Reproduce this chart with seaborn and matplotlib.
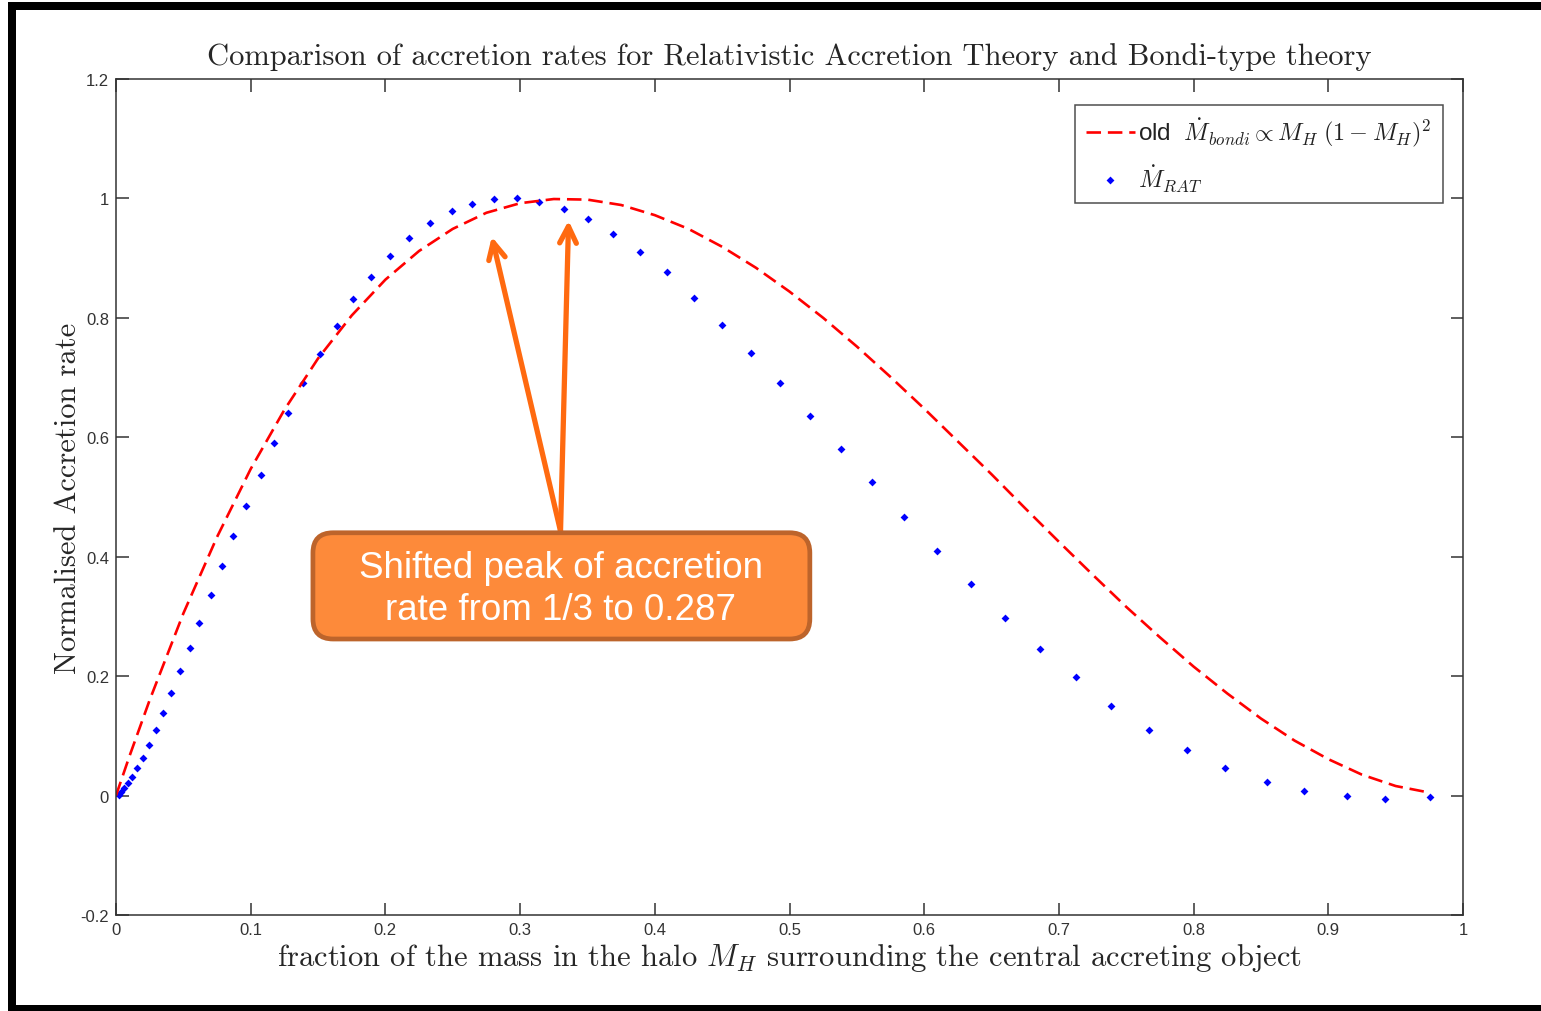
import numpy as np
import pandas as pd
import matplotlib
matplotlib.use("Agg")
import matplotlib.pyplot as plt
import seaborn as sns
from matplotlib.patches import Rectangle, FancyBboxPatch
from matplotlib.ticker import FuncFormatter

# ---- data ----
bondi_x = [0.0, 0.01, 0.025, 0.05, 0.075, 0.1, 0.125, 0.15, 0.175, 0.2, 0.225, 0.25,
           0.275, 0.3, 0.325, 0.35, 0.375, 0.4, 0.425, 0.45, 0.475, 0.5, 0.525,
           0.55, 0.575, 0.6, 0.625, 0.65, 0.675, 0.7, 0.725, 0.75, 0.775, 0.8,
           0.825, 0.85, 0.875, 0.9, 0.925, 0.95, 0.975]
bondi_y = [0.0, 0.066, 0.160, 0.305, 0.433, 0.547, 0.646, 0.732, 0.804, 0.864, 0.912,
           0.949, 0.976, 0.992, 0.999, 0.998, 0.989, 0.972, 0.949, 0.919, 0.884,
           0.844, 0.800, 0.752, 0.701, 0.648, 0.593, 0.538, 0.481, 0.425, 0.370,
           0.316, 0.265, 0.216, 0.171, 0.129, 0.092, 0.061, 0.035, 0.016, 0.005]

rat_x = [0.002, 0.0037, 0.0059, 0.0087, 0.0117, 0.0154, 0.0200, 0.0247, 0.0295, 0.0351,
         0.0408, 0.0475, 0.0549, 0.0616, 0.0703, 0.0789, 0.0871, 0.0965, 0.1074,
         0.1173, 0.1279, 0.1390, 0.1514, 0.1638, 0.1761, 0.1895, 0.2034, 0.2177,
         0.2328, 0.2494, 0.2642, 0.2803, 0.2974, 0.3142, 0.3325, 0.3503, 0.3691,
         0.3891, 0.4092, 0.4290, 0.4498, 0.4715, 0.4931, 0.5150, 0.5383, 0.5611,
         0.5849, 0.6094, 0.6351, 0.6598, 0.6860, 0.7125, 0.7390, 0.7667, 0.7949,
         0.8233, 0.8545, 0.8820, 0.9137, 0.9424, 0.9753]
rat_y = [0.001, 0.0067, 0.0124, 0.0212, 0.0313, 0.0458, 0.0631, 0.0848, 0.1104, 0.1379,
         0.1718, 0.2086, 0.2466, 0.2894, 0.3363, 0.3838, 0.4340, 0.4852, 0.5366,
         0.5901, 0.6415, 0.6905, 0.7402, 0.7864, 0.8315, 0.8678, 0.9035, 0.9336,
         0.9593, 0.9783, 0.9911, 0.9997, 1.0000, 0.9938, 0.9828, 0.9654, 0.9403,
         0.9102, 0.8762, 0.8332, 0.7887, 0.7418, 0.6905, 0.6349, 0.5796, 0.5243,
         0.4668, 0.4089, 0.3537, 0.2978, 0.2449, 0.1981, 0.1506, 0.1104, 0.0765,
         0.0463, 0.0229, 0.0079, -0.0005, -0.0050, -0.0027]

title = "Comparison of accretion rates for Relativistic Accretion Theory and Bondi-type theory"
xlabel = r"fraction of the mass in the halo $M_H$ surrounding the central accreting object"
ylabel = "Normalised Accretion rate"
label_bondi = r"old  $\dot{M}_{bondi} \propto M_H\;(1 - M_H)^2$"
label_rat = r"$\dot{M}_{RAT}$"
note_text = "Shifted peak of accretion\nrate from 1/3 to 0.287"
note_center = (0.3303, 0.3465)
note_box = (0.1462, 0.2622, 0.5151, 0.4401)   # x0, y0, x1, y1 in data units
arrow_tail = (0.330, 0.443)
arrow_heads = [(0.279, 0.936), (0.336, 0.963)]

sns.set_theme(style="white")
plt.rcParams["mathtext.fontset"] = "cm"
plt.rcParams["font.family"] = ["DejaVu Serif"]

fig = plt.figure(figsize=(15.41, 10.12), dpi=100)
ax = fig.add_axes([116 / 1541, 1 - 916 / 1012, (1463 - 116) / 1541, (916 - 80) / 1012])

df_b = pd.DataFrame({"x": bondi_x, "y": bondi_y})
df_r = pd.DataFrame({"x": rat_x, "y": rat_y})
sns.lineplot(data=df_b, x="x", y="y", ax=ax, color="#ff0000", lw=1.9,
             label=label_bondi, sort=False)
ax.lines[-1].set_dashes((5.5, 2.6))
sns.scatterplot(data=df_r, x="x", y="y", ax=ax, color="#0000ff", marker="D",
                s=16, linewidth=0, label=label_rat)

ax.set_xlim(0, 1)
ax.set_ylim(-0.2, 1.2)
ax.set_xticks(np.round(np.arange(0, 1.01, 0.1), 1))
ax.set_yticks(np.round(np.arange(-0.2, 1.21, 0.2), 1))
fmt = FuncFormatter(lambda v, p: "%g" % round(v, 2))
ax.xaxis.set_major_formatter(fmt)
ax.yaxis.set_major_formatter(fmt)
ax.tick_params(direction="in", length=9, width=1.1, color="#333333",
               top=True, right=True, bottom=True, left=True,
               labelsize=12, labelcolor="#333333", pad=5)
for lbl in ax.get_xticklabels() + ax.get_yticklabels():
    lbl.set_fontfamily("Liberation Sans")
for sp in ax.spines.values():
    sp.set_color("#333333")
    sp.set_linewidth(1.1)

ax.set_title(title, fontsize=22, family="cmr10", pad=11)
ax.set_xlabel(xlabel, fontsize=22, family="cmr10", labelpad=3)
ax.set_ylabel(ylabel, fontsize=22, family="cmr10", labelpad=-1)
ax.set_facecolor("white")

leg = ax.legend(loc="upper right", bbox_to_anchor=(0.985, 0.969), borderaxespad=0,
                frameon=True, fancybox=False, edgecolor="#222222",
                handlelength=2.0, borderpad=0.45, labelspacing=0.55,
                handletextpad=0.15, prop={"family": "Liberation Sans", "size": 17.5})
leg.get_frame().set_linewidth(1.1)
for t in leg.get_texts():
    t.set_color("#222222")

# annotation arrows
for head in arrow_heads:
    ax.annotate("", xy=head, xytext=arrow_tail,
                arrowprops=dict(arrowstyle="->,head_length=1.0,head_width=0.5",
                                color="#ff6a10", lw=3.8, shrinkA=0, shrinkB=0))
x0, y0, x1, y1 = note_box
aspect = 1347.3 / 597.7
box = FancyBboxPatch((x0, y0), x1 - x0, y1 - y0,
                     boxstyle="round,pad=0,rounding_size=0.015",
                     mutation_aspect=aspect, fc="#fd8a3a", ec="#bd642b", lw=3.4,
                     zorder=5)
ax.add_patch(box)
ax.text(note_center[0], note_center[1], note_text, ha="center", va="center",
        fontsize=26.5, family="Liberation Sans", color="white", linespacing=1.28,
        zorder=6)

# outer black frame
fig.add_artist(Rectangle((8 / 1541, 1 - 11 / 1012), 1, 8 / 1012,
                         transform=fig.transFigure, color="black", lw=0))
fig.add_artist(Rectangle((8 / 1541, 0), 8 / 1541, 1 - 3 / 1012,
                         transform=fig.transFigure, color="black", lw=0))
fig.add_artist(Rectangle((8 / 1541, 0), 1, 6 / 1012,
                         transform=fig.transFigure, color="black", lw=0))

fig.savefig("out.png", dpi=100, facecolor="white")
